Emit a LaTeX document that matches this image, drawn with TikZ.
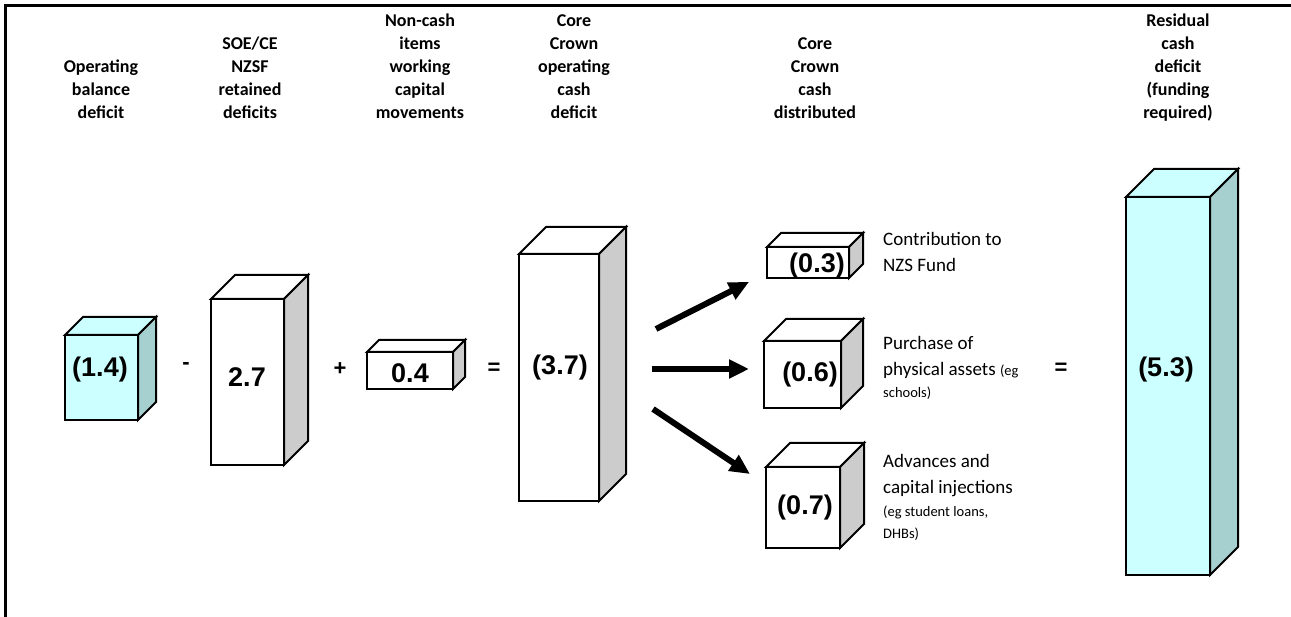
\documentclass[tikz,border=0pt]{standalone}
\usepackage{fontspec}
\setmainfont{Carlito}
\newfontfamily\arialf{Liberation Sans}
\usetikzlibrary{arrows.meta}
\definecolor{cyanfront}{RGB}{204,255,255}
\definecolor{cyanside}{RGB}{166,208,208}
\definecolor{greyside}{RGB}{204,204,204}
\tikzset{
  edge/.style={line width=2pt, line join=miter},
  face/.style={draw, edge, inner sep=0pt, outer sep=0pt, anchor=north west},
  val/.style={font=\arialf\bfseries\fontsize{27}{31}\selectfont, inner sep=0pt},
  opsym/.style={font=\arialf\bfseries\fontsize{22}{26}\selectfont, inner sep=0pt},
  hdr/.style={font=\bfseries\fontsize{18}{23}\selectfont, align=center, anchor=south, inner sep=0pt, text depth=0pt},
  lbl/.style={font=\fontsize{19}{26}\selectfont, align=left, anchor=north west, inner sep=0pt},
  flow/.style={line width=6pt, -{Triangle[length=20pt,width=18pt]}},
  frame/.style={line width=3pt}
}
\newcommand\cub[8]{%
  \node[face, fill=#7, minimum width=#4pt, minimum height=#5pt] (#1) at (#2,#3) {};
  \filldraw[edge, fill=#7] (#1.north west) -- ++(#6,-#6) -- ++(#4,0) -- (#1.north east) -- cycle;
  \filldraw[edge, fill=#8] (#1.north east) -- ++(#6,-#6) -- ++(0,#5) -- (#1.south east) -- cycle;
}
\newcommand\smallfnt{\fontsize{14.5}{17}\selectfont}
\begin{document}
\begin{tikzpicture}[x=1pt,y=-1pt]
\useasboundingbox (0,0) rectangle (1291,617);
\fill[white] (0,0) rectangle (1291,617);
% frame
\coordinate (fb) at (5,617);
\coordinate (fc) at (5,6);
\coordinate (fr) at (1291,6);
\draw[frame] (fb) -- (fc) -- (fr);

% headers
\node[hdr] (h1) at (101,119) {Operating\\balance\\deficit};
\node[hdr] (h2) at (250,119) {SOE/CE\\NZSF\\retained\\deficits};
\node[hdr] (h3) at (420,119) {Non-cash\\items\\working\\capital\\movements};
\node[hdr] (h4) at (574,119) {Core\\Crown\\operating\\cash\\deficit};
\node[hdr] (h5) at (815,119) {Core\\Crown\\cash\\distributed};
\node[hdr] (h6) at (1178,119) {Residual\\cash\\deficit\\(funding\\required)};

% boxes
\cub{b1}{65}{335}{73}{85}{18}{cyanfront}{cyanside}
\cub{b2}{211}{299}{73}{166}{24}{white}{greyside}
\cub{b3}{367}{352}{86}{37}{12}{white}{greyside}
\cub{b4}{519}{254}{80}{247}{27}{white}{greyside}
\cub{b5}{767}{247}{82}{31}{14}{white}{greyside}
\cub{b6}{764}{341}{77}{67}{22}{white}{greyside}
\cub{b7}{766}{467}{74}{81}{24}{white}{greyside}
\cub{b8}{1126}{197}{84}{378}{28}{cyanfront}{cyanside}

% values
\node[val] (v1) at (100,370) {(1.4)};
\node[val] (v2) at (247,377) {2.7};
\node[val] (v3) at (410,373) {0.4};
\node[val] (v4) at (560,368) {(3.7)};
\node[val] (v5) at (817,266) {(0.3)};
\node[val] (v6) at (810,375) {(0.6)};
\node[val] (v7) at (805,508) {(0.7)};
\node[val] (v8) at (1166,370) {(5.3)};

% operators
\node[opsym] (o1) at (186,366) {-};
\node[opsym] (o2) at (340,369) {+};
\node[opsym] (o3) at (494,369) {=};
\node[opsym] (o4) at (1061,369) {=};

% arrows
\coordinate (a1s) at (656,329); \coordinate (a1e) at (749,282);
\coordinate (a2s) at (652,369); \coordinate (a2e) at (749,369);
\coordinate (a3s) at (653,409); \coordinate (a3e) at (750,474);
\draw[flow] (a1s) -- (a1e);
\draw[flow] (a2s) -- (a2e);
\draw[flow] (a3s) -- (a3e);

% side labels
\node[lbl] (l1) at (883,232) {Contribution to\\NZS Fund};
\node[lbl] (l2) at (883,336) {Purchase of\\physical assets {\smallfnt(eg}\\[-4pt]{\smallfnt schools)}};
\node[lbl] (l3) at (883,454) {Advances and\\capital injections\\[-3pt]{\smallfnt(eg student loans,}\\[-4pt]{\smallfnt DHBs)}};
\end{tikzpicture}
\end{document}
